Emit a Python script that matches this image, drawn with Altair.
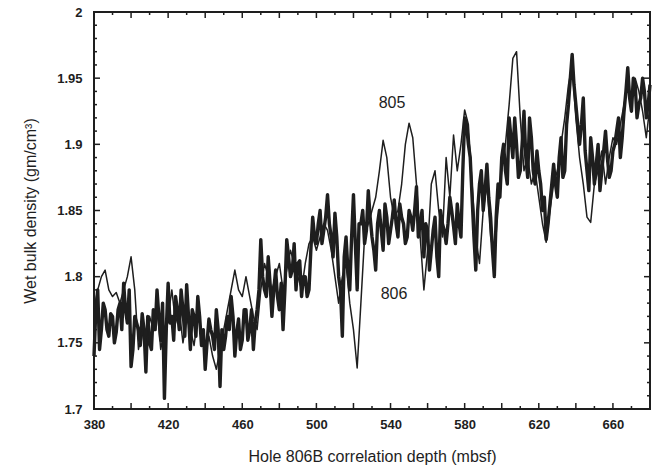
import altair as alt
import pandas as pd

# ---- data ----
depth_even = list(range(380, 681, 2))
depth_odd = list(range(381, 680, 2))

rho_806_even = [
    1.740, 1.790, 1.760, 1.775, 1.755, 1.770, 1.758, 1.780, 1.795, 1.765,
    1.732, 1.770, 1.760, 1.772, 1.728, 1.750, 1.775, 1.790, 1.752, 1.708,
    1.795, 1.770, 1.785, 1.760, 1.775, 1.794, 1.745, 1.770, 1.785, 1.748,
    1.730, 1.768, 1.755, 1.775, 1.717, 1.745, 1.770, 1.785, 1.740, 1.768,
    1.752, 1.775, 1.760, 1.745, 1.775, 1.828, 1.790, 1.815, 1.770, 1.805,
    1.775, 1.760, 1.828, 1.800, 1.825, 1.810, 1.785, 1.800, 1.790, 1.845,
    1.825, 1.850, 1.835, 1.862, 1.830, 1.848, 1.800, 1.755, 1.830, 1.790,
    1.862, 1.790, 1.840, 1.825, 1.865, 1.830, 1.805, 1.850, 1.820, 1.845,
    1.835, 1.858, 1.830, 1.845, 1.825, 1.850, 1.835, 1.868, 1.840, 1.815,
    1.835, 1.820, 1.845, 1.800, 1.840, 1.825, 1.860, 1.838, 1.855, 1.830,
    1.920, 1.900, 1.860, 1.805, 1.870, 1.850, 1.885, 1.845, 1.800, 1.870,
    1.890, 1.880, 1.920, 1.890, 1.900, 1.880, 1.925, 1.875, 1.905, 1.870,
    1.880, 1.850, 1.828, 1.855, 1.885, 1.860, 1.905, 1.880, 1.930, 1.968,
    1.930, 1.900, 1.935, 1.880, 1.905, 1.870, 1.900, 1.880, 1.910, 1.875,
    1.895, 1.910, 1.890, 1.925, 1.958, 1.925, 1.945, 1.930, 1.950, 1.920,
    1.945,
]

rho_806_odd = [
    1.775, 1.745, 1.780, 1.760, 1.772, 1.750, 1.775, 1.760, 1.775, 1.790,
    1.745, 1.765, 1.748, 1.760, 1.770, 1.745, 1.760, 1.770, 1.780, 1.760,
    1.765, 1.752, 1.775, 1.790, 1.755, 1.770, 1.775, 1.755, 1.770, 1.760,
    1.750, 1.760, 1.745, 1.760, 1.760, 1.755, 1.760, 1.770, 1.758, 1.745,
    1.775, 1.752, 1.775, 1.765, 1.790, 1.800, 1.785, 1.795, 1.790, 1.785,
    1.795, 1.790, 1.815, 1.805, 1.790, 1.812, 1.800, 1.785, 1.820, 1.830,
    1.840, 1.825, 1.845, 1.840, 1.815, 1.830, 1.790, 1.815, 1.805, 1.830,
    1.825, 1.840, 1.850, 1.835, 1.845, 1.820, 1.840, 1.835, 1.855, 1.825,
    1.845, 1.840, 1.855, 1.840, 1.830, 1.845, 1.850, 1.830, 1.850, 1.840,
    1.805, 1.835, 1.815, 1.850, 1.835, 1.840, 1.850, 1.825, 1.840, 1.880,
    1.915, 1.890, 1.830, 1.850, 1.880, 1.865, 1.860, 1.820, 1.845, 1.860,
    1.900, 1.870, 1.905, 1.920, 1.875, 1.900, 1.890, 1.920, 1.880, 1.895,
    1.870, 1.860, 1.840, 1.870, 1.870, 1.890, 1.875, 1.915, 1.950, 1.945,
    1.915, 1.915, 1.895, 1.865, 1.890, 1.885, 1.865, 1.895, 1.890, 1.880,
    1.900, 1.920, 1.905, 1.940, 1.935, 1.950, 1.920, 1.935, 1.940, 1.930,
]

rho_805 = [
    1.775, 1.790, 1.800, 1.805, 1.790, 1.785, 1.788, 1.780, 1.790, 1.800,
    1.815, 1.790, 1.745, 1.760, 1.740, 1.770, 1.760, 1.778, 1.745, 1.760,
    1.770, 1.790, 1.765, 1.775, 1.750, 1.768, 1.760, 1.748, 1.770, 1.760,
    1.745, 1.755, 1.740, 1.730, 1.745, 1.760, 1.775, 1.790, 1.805, 1.790,
    1.785, 1.800, 1.785, 1.770, 1.760, 1.790, 1.810, 1.800, 1.790, 1.800,
    1.810, 1.790, 1.805, 1.820, 1.810, 1.800, 1.790, 1.810, 1.825, 1.830,
    1.820, 1.830, 1.840, 1.835, 1.820, 1.800, 1.780, 1.800, 1.810, 1.780,
    1.760, 1.731, 1.780, 1.830, 1.840, 1.850, 1.860, 1.880, 1.903, 1.890,
    1.860, 1.845, 1.850, 1.870, 1.900, 1.916, 1.905, 1.870, 1.830, 1.790,
    1.820, 1.870, 1.880, 1.850, 1.830, 1.890, 1.860, 1.907, 1.880, 1.900,
    1.926, 1.915, 1.870, 1.830, 1.810, 1.850, 1.870, 1.830, 1.815, 1.850,
    1.880, 1.900, 1.930, 1.965, 1.970, 1.920, 1.880, 1.890, 1.870, 1.880,
    1.860, 1.840, 1.826, 1.850, 1.870, 1.880, 1.900, 1.920, 1.945, 1.960,
    1.920, 1.890, 1.870, 1.845, 1.841, 1.870, 1.880, 1.895, 1.870, 1.890,
    1.905, 1.900, 1.915, 1.930, 1.945, 1.935, 1.950, 1.940, 1.925, 1.905,
    1.930,
]

x_label_values = [380, 420, 460, 500, 540, 580, 620, 660]
x_major = list(range(380, 681, 20))
x_minor = list(range(390, 681, 20))
y_major = [1.7, 1.75, 1.8, 1.85, 1.9, 1.95, 2.0]
y_minor = [round(1.7 + i * 0.01, 2) for i in range(31) if i % 5 != 0]

note_text = ["805", "806"]
note_x = [540.8, 541.9]
note_y = [1.931, 1.787]

# ---- chart ----
W, H = 556, 397
INK = "#1e1e1e"
FONT = "Liberation Sans"

xs = alt.Scale(domain=[380, 680], nice=False, zero=False)
ys = alt.Scale(domain=[1.7, 2.0], nice=False, zero=False)

AX = alt.Axis(values=x_label_values, title="Hole 806B correlation depth (mbsf)",
              domain=False, ticks=False, grid=False, labelFlush=False,
              labelFont=FONT, labelFontSize=13, labelFontWeight="bold",
              labelColor=INK, labelPadding=9,
              titleFont=FONT, titleFontSize=16, titleFontWeight="normal",
              titleColor=INK, titlePadding=17)
AY = alt.Axis(values=y_major, format=".2~f", title="Wet bulk density (gm/cm³)",
              domain=False, ticks=False, grid=False, labelFlush=False,
              labelFont=FONT, labelFontSize=13, labelFontWeight="bold",
              labelColor=INK, labelPadding=12,
              titleFont=FONT, titleFontSize=16, titleFontWeight="normal",
              titleColor=INK, titlePadding=18)

df806 = pd.DataFrame({"depth": depth_even + depth_odd,
                      "rho": rho_806_even + rho_806_odd}).sort_values("depth")
df805 = pd.DataFrame({"depth": depth_even, "rho": rho_805})


def xticks(vals, length):
    d = pd.DataFrame({"v": vals})
    bottom = alt.Chart(d).mark_rule(color=INK, strokeWidth=1.5).encode(
        x=alt.X("v:Q", scale=xs, axis=None), y=alt.value(H), y2=alt.value(H - length))
    top = alt.Chart(d).mark_rule(color=INK, strokeWidth=1.5).encode(
        x=alt.X("v:Q", scale=xs, axis=None), y=alt.value(0), y2=alt.value(length))
    return [bottom, top]


def yticks(vals, length):
    d = pd.DataFrame({"v": vals})
    left = alt.Chart(d).mark_rule(color=INK, strokeWidth=1.5).encode(
        y=alt.Y("v:Q", scale=ys, axis=None), x=alt.value(0), x2=alt.value(length))
    right = alt.Chart(d).mark_rule(color=INK, strokeWidth=1.5).encode(
        y=alt.Y("v:Q", scale=ys, axis=None), x=alt.value(W), x2=alt.value(W - length))
    return [left, right]


tick_layers = xticks(x_major, 6) + xticks(x_minor, 3) + yticks(y_major, 6) + yticks(y_minor, 3)

line806 = alt.Chart(df806).mark_line(color=INK, strokeWidth=3.4, strokeJoin="round").encode(
    x=alt.X("depth:Q", scale=xs, axis=AX),
    y=alt.Y("rho:Q", scale=ys, axis=AY),
)

line805 = alt.Chart(df805).mark_line(color=INK, strokeWidth=1.5, strokeJoin="round").encode(
    x=alt.X("depth:Q", scale=xs, axis=None),
    y=alt.Y("rho:Q", scale=ys, axis=None),
)

notes = alt.Chart(pd.DataFrame({"t": note_text, "x": note_x, "y": note_y})).mark_text(
    font=FONT, fontSize=16, color=INK
).encode(
    x=alt.X("x:Q", scale=xs, axis=None),
    y=alt.Y("y:Q", scale=ys, axis=None),
    text="t:N",
)

chart = alt.layer(*tick_layers, line806, line805, notes).resolve_axis(
    x="independent", y="independent"
).properties(
    width=W, height=H,
    autosize=alt.AutoSizeParams(type="none"),
    padding={"left": 94, "top": 12, "right": 6, "bottom": 63},
    background="white",
).configure_view(stroke=INK, strokeWidth=2)

chart.save("out.html", embed_options={"renderer": "svg", "actions": False})
